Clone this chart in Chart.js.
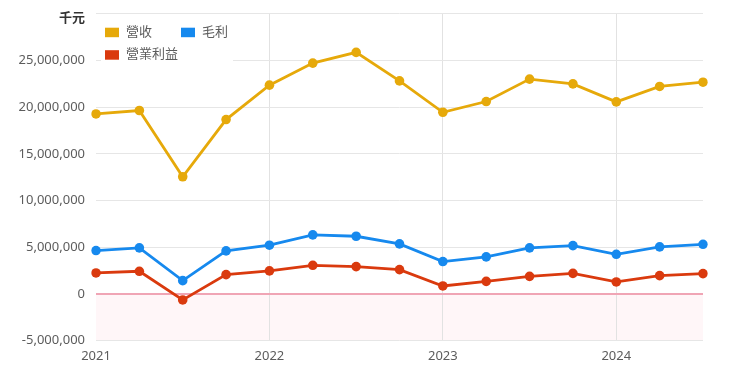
<!DOCTYPE html>
<html>
<head>
<meta charset="utf-8">
<script src="https://cdn.jsdelivr.net/npm/chart.js@4/dist/chart.umd.min.js"></script>
<style>
  html, body { margin: 0; padding: 0; background: #ffffff; }
  #wrap { width: 740px; height: 375px; }
</style>
</head>
<body>
<div id="wrap"><canvas id="c" width="740" height="375"></canvas></div>
<script>
// ---- Data ----
const quarters = ['2021 Q1','2021 Q2','2021 Q3','2021 Q4',
                  '2022 Q1','2022 Q2','2022 Q3','2022 Q4',
                  '2023 Q1','2023 Q2','2023 Q3','2023 Q4',
                  '2024 Q1','2024 Q2','2024 Q3'];
const seriesNames = ['營收', '毛利', '營業利益'];
const revenue = [19270000, 19640000, 12550000, 18670000,
                 22350000, 24710000, 25860000, 22810000,
                 19450000, 20600000, 23000000, 22490000,
                 20560000, 22210000, 22670000];
const grossProfit = [4650000, 4940000, 1430000, 4610000,
                     5220000, 6330000, 6180000, 5360000,
                     3470000, 3970000, 4940000, 5180000,
                     4250000, 5040000, 5320000];
const operatingIncome = [2250000, 2430000, -640000, 2070000,
                         2470000, 3070000, 2930000, 2610000,
                         860000, 1350000, 1890000, 2210000,
                         1290000, 1960000, 2180000];
const unitLabel = '千元';
const yMin = -5000000, yMax = 30000000, yStep = 5000000;

// ---- Styles ----
const colors = ['#e6a90a', '#1689ee', '#da3a0e'];
const FONT = "'Noto Sans', 'Noto Sans CJK TC', sans-serif";

const negativeZonePlugin = {
  id: 'negativeZone',
  beforeDraw(chart) {
    const { ctx, chartArea } = chart;
    const y = chart.scales.y;
    const y0 = y.getPixelForValue(0);
    const y1 = y.getPixelForValue(yMin);
    ctx.save();
    ctx.fillStyle = '#fff6f8';
    ctx.fillRect(chartArea.left, y0, chartArea.right - chartArea.left, y1 - y0);
    ctx.restore();
  }
};

// unit label at the top of the value axis, slightly below the top grid line
const unitLabelPlugin = {
  id: 'unitLabel',
  afterDraw(chart) {
    const { ctx } = chart;
    const y = chart.scales.y;
    ctx.save();
    ctx.font = "bold 13px " + FONT;
    ctx.fillStyle = '#333333';
    ctx.textAlign = 'right';
    ctx.textBaseline = 'middle';
    ctx.fillText(unitLabel, y.right - 11, y.getPixelForValue(yMax) + 4.5);
    ctx.restore();
  }
};

const insideLegendPlugin = {
  id: 'insideLegend',
  beforeDatasetsDraw(chart) {
    const { ctx, chartArea } = chart;
    const x0 = chartArea.left + 9;
    const yRow0 = chartArea.top + 18.5;
    const colW = 76, rowH = 22.5, perRow = 2;
    ctx.save();
    ctx.fillStyle = '#ffffff';
    ctx.fillRect(chartArea.left + 5, chartArea.top + 6, 132, 47);
    ctx.font = "13px " + FONT;
    ctx.textBaseline = 'middle';
    ctx.textAlign = 'left';
    chart.data.datasets.forEach((ds, i) => {
      const col = i % perRow, row = Math.floor(i / perRow);
      const bx = x0 + col * colW;
      const by = yRow0 + row * rowH;
      ctx.fillStyle = ds.borderColor;
      ctx.fillRect(bx, by - 4.5, 14, 9.5);
      ctx.fillStyle = '#5c5c5c';
      ctx.fillText(ds.label, bx + 21, by);
    });
    ctx.restore();
  }
};

const series = [revenue, grossProfit, operatingIncome];

new Chart(document.getElementById('c'), {
  type: 'line',
  data: {
    labels: quarters,
    datasets: series.map((d, i) => ({
      label: seriesNames[i],
      data: d,
      borderColor: colors[i],
      backgroundColor: colors[i],
      borderWidth: 2.8,
      pointRadius: 4.8,
      pointBorderWidth: 0,
      pointBackgroundColor: colors[i],
      tension: 0,
      fill: false
    }))
  },
  options: {
    responsive: false,
    animation: false,
    layout: { padding: { left: 0, right: 37, top: 13.7, bottom: 0 } },
    plugins: {
      legend: { display: false },
      tooltip: { enabled: false }
    },
    scales: {
      x: {
        type: 'category',
        offset: false,
        border: { display: false },
        grid: {
          drawTicks: false,
          color: (ctx) => (ctx.index > 0 && ctx.index % 4 === 0) ? '#e2e2e2' : 'rgba(0,0,0,0)',
          lineWidth: 1
        },
        ticks: {
          autoSkip: false,
          maxRotation: 0,
          padding: 8,
          color: '#5c5c5c',
          font: { family: FONT, size: 13 },
          callback: (v, i) => (i % 4 === 0) ? quarters[i].slice(0, 4) : ''
        },
        afterFit: (s) => { s.height = 34.3; s.paddingLeft = 0; s.paddingRight = 0; }
      },
      y: {
        min: yMin,
        max: yMax,
        border: { display: false },
        grid: {
          drawTicks: false,
          color: (ctx) => (ctx.tick && ctx.tick.value === 0) ? '#f0a5b5' : '#e6e6e6',
          lineWidth: (ctx) => (ctx.tick && ctx.tick.value === 0) ? 2 : 1
        },
        ticks: {
          stepSize: yStep,
          padding: 11,
          color: '#5c5c5c',
          font: { family: FONT, size: 13 },
          callback: (v) => v === yMax ? '' : v.toLocaleString('en-US')
        },
        afterFit: (s) => { s.width = 96; s.paddingTop = 0; s.paddingBottom = 0; }
      }
    }
  },
  plugins: [negativeZonePlugin, insideLegendPlugin, unitLabelPlugin]
});
</script>
</body>
</html>
